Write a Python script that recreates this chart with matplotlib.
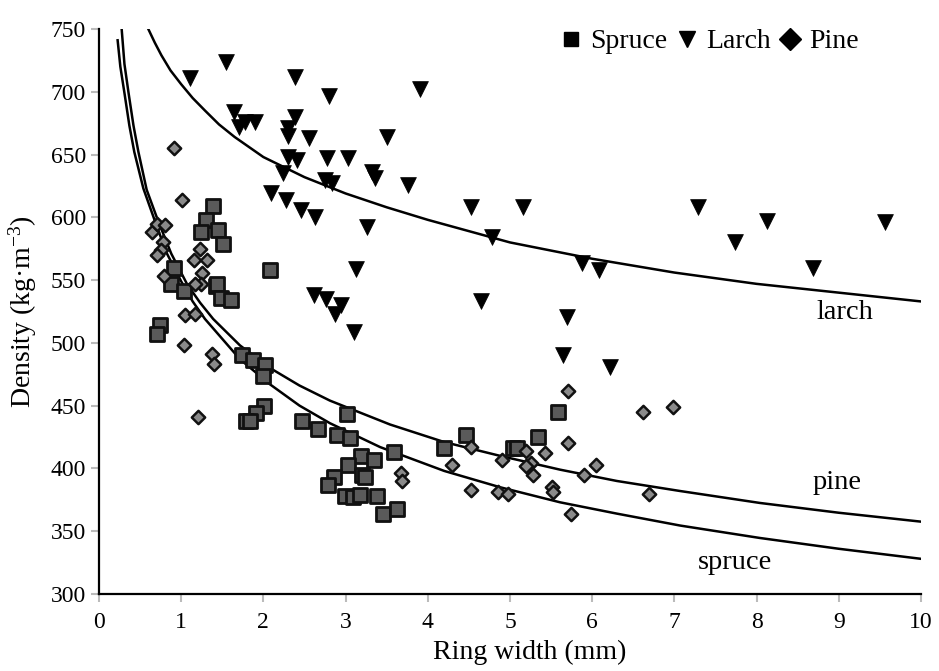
import matplotlib.pyplot as plt
from matplotlib.lines import Line2D

plt.rcParams['font.family'] = ['Liberation Serif', 'DejaVu Serif']
plt.rcParams['mathtext.default'] = 'regular'

# ── Messpunkte ──
spruce_x = [1.39, 1.30, 1.24, 1.45, 1.51, 0.91, 0.88, 1.04, 1.42, 1.44, 1.48, 1.61,
            0.74, 0.70, 2.08, 1.74, 1.87, 2.02, 1.99, 2.01, 1.91, 1.79, 1.84, 2.47,
            2.67, 3.02, 2.89, 3.05, 3.59, 3.19, 3.35, 3.03, 3.20, 3.24, 2.86, 2.79,
            2.99, 3.09, 3.18, 3.38, 3.46, 3.63, 4.20, 4.47, 5.04, 5.08, 5.34, 5.59]
spruce_y = [609, 598, 588, 590, 579, 560, 547, 541, 545, 547, 536, 534,
            514, 507, 558, 490, 486, 482, 474, 450, 444, 438, 438, 438,
            431, 443, 427, 424, 413, 410, 407, 403, 395, 393, 393, 387,
            378, 377, 379, 378, 364, 368, 416, 427, 416, 416, 425, 445]

larch_x = [1.11, 1.55, 1.64, 1.70, 1.78, 1.90, 2.38, 2.80, 3.90, 2.38, 2.30, 2.30,
           2.56, 3.51, 2.30, 2.41, 2.77, 3.03, 2.24, 3.32, 3.36, 2.75, 2.83, 3.76,
           2.09, 2.28, 2.46, 2.63, 3.26, 4.53, 5.16, 4.78, 3.13, 2.62, 2.76, 2.95,
           2.87, 3.10, 4.65, 5.69, 5.88, 6.08, 7.29, 8.13, 9.56, 7.74, 8.69, 5.64,
           6.22]
larch_y = [711, 724, 684, 672, 676, 676, 712, 697, 702, 680, 671, 665,
           663, 664, 648, 646, 647, 647, 635, 636, 631, 630, 627, 626,
           619, 614, 606, 600, 592, 608, 608, 584, 559, 538, 535, 530,
           523, 509, 533, 521, 564, 558, 608, 597, 596, 580, 560, 490,
           481]

pine_x = [0.91, 1.01, 0.64, 0.70, 0.80, 0.78, 0.76, 0.70, 1.23, 1.16, 1.31, 1.25,
          1.24, 1.17, 0.79, 1.05, 1.17, 1.03, 1.37, 1.40, 1.20, 3.68, 3.69, 4.29,
          4.52, 4.53, 4.85, 4.97, 4.90, 5.20, 5.26, 5.20, 5.28, 5.43, 5.51, 5.52,
          5.71, 6.62, 6.98, 5.71, 6.05, 5.90, 6.69, 5.74]
pine_y = [655, 614, 588, 595, 594, 580, 574, 570, 575, 566, 566, 556,
          547, 547, 553, 522, 523, 498, 491, 483, 441, 396, 390, 403,
          417, 383, 381, 380, 407, 414, 404, 402, 395, 412, 385, 381,
          462, 445, 449, 420, 403, 395, 380, 364]

larch_curve_x = [0.60, 0.68, 0.76, 0.87, 1.00, 1.14, 1.29, 1.46, 1.65, 2.00, 2.50,
                 3.00, 3.50, 4.00, 5.00, 6.00, 7.00, 8.00, 9.00, 10.0]
larch_curve_y = [750, 739, 729, 717, 706, 695, 685, 674, 664, 648, 632,
                 619, 608, 598, 580, 567, 556, 547, 540, 533]

pine_curve_x = [0.276, 0.31, 0.36, 0.42, 0.48, 0.58, 0.72, 0.88, 1.07, 1.23, 1.39,
                1.715, 2.08, 2.44, 2.81, 3.54, 4.20, 4.88, 5.61, 6.30, 7.07, 8.04,
                9.00, 10.0]
pine_curve_y = [750, 722, 699, 673, 652, 622, 597, 571, 547, 532, 519,
                498, 480, 466, 454, 435, 421, 410, 399, 390, 382, 372.5,
                364.7, 357.6]

spruce_curve_x = [0.227, 0.26, 0.31, 0.37, 0.43, 0.54, 0.67, 0.82, 1.00, 1.14, 1.29,
                  1.715, 2.08, 2.44, 2.81, 3.42, 4.20, 4.88, 5.61, 6.30, 7.07, 8.04,
                  9.00, 10.0]
spruce_curve_y = [741, 720, 699, 673, 652, 623, 599, 572, 549, 533, 519,
                  487, 467, 450, 436, 417, 398, 385, 373, 364, 354.5, 344.6,
                  336, 328]


fig = plt.figure(figsize=(9.39, 6.71), dpi=100)
ax = fig.add_axes([0.1054, 0.1148, 0.8754, 0.842])

for cx, cy in [(larch_curve_x, larch_curve_y),
               (pine_curve_x, pine_curve_y),
               (spruce_curve_x, spruce_curve_y)]:
    ax.plot(cx, cy, color="black", linewidth=1.8, zorder=2,
            solid_joinstyle="round")

ax.scatter(spruce_x, spruce_y, marker="s", s=110, facecolor="#5a5a5a",
           edgecolor="#111111", linewidth=2.0, zorder=3)
ax.scatter(pine_x, pine_y, marker="D", s=46, facecolor="#8a8a8a",
           edgecolor="#111111", linewidth=1.8, zorder=4)
ax.scatter(larch_x, larch_y, marker="v", s=130, facecolor="black",
           edgecolor="black", linewidth=0.5, zorder=3)

# Kurvenbeschriftung
ax.text(9.07, 524, "larch", fontsize=20.5, ha="center", va="center")
ax.text(8.98, 389, "pine", fontsize=20.5, ha="center", va="center")
ax.text(7.74, 325, "spruce", fontsize=20.5, ha="center", va="center")

# Legende
handles = [
    Line2D([], [], marker="s", color="black", linestyle="none", markersize=10.5),
    Line2D([], [], marker="v", color="black", linestyle="none", markersize=11),
    Line2D([], [], marker="D", color="black", linestyle="none", markersize=11),
]
ax.legend(handles, ["Spruce", "Larch", "Pine"], ncol=3, loc="upper right",
          bbox_to_anchor=(0.925, 1.0), borderaxespad=0, borderpad=0,
          frameon=False, fontsize=20,
          handletextpad=0.3, columnspacing=0.3, handlelength=0.8)

ax.set_xlim(0, 10)
ax.set_ylim(300, 750)
ax.set_xticks(range(0, 11))
ax.set_yticks(range(300, 751, 50))

for side in ["top", "right"]:
    ax.spines[side].set_visible(False)
for side in ["left", "bottom"]:
    ax.spines[side].set_linewidth(1.6)

ax.tick_params(axis="both", direction="out", length=6, width=1.5,
               color="#bbbbbb", labelsize=17)
ax.tick_params(axis="x", pad=7)

ax.set_xlabel("Ring width (mm)", fontsize=20, va="center")
ax.xaxis.set_label_coords((530 - 99) / 822, -0.104)
ax.set_ylabel("Density (kg·m$^{-3}$)", fontsize=20, labelpad=8)

fig.savefig("out.png", dpi=100)
